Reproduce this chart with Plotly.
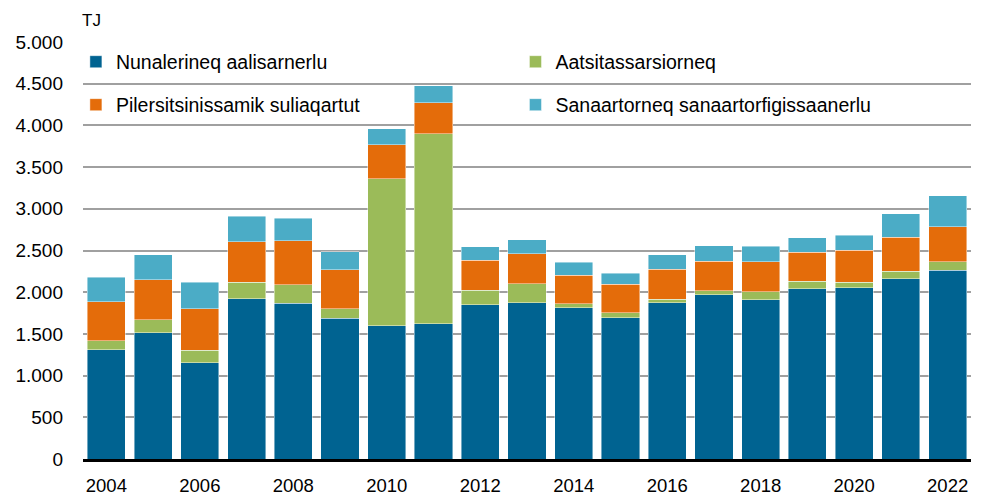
import plotly.graph_objects as go

years = list(range(2004, 2023))
nunalerineq = [1308, 1513, 1156, 1921, 1865, 1689, 1597, 1621, 1849, 1876, 1813, 1693, 1873, 1969, 1909, 2041, 2053, 2161, 2261]
aatsitassarsiorneq = [108, 156, 149, 200, 224, 112, 1764, 2277, 176, 225, 48, 60, 40, 48, 96, 92, 68, 92, 104]
pilersitsinissamik = [472, 483, 496, 484, 528, 468, 409, 376, 356, 360, 344, 340, 360, 356, 360, 344, 380, 404, 420]
sanaartorneq = [293, 297, 320, 304, 272, 216, 188, 200, 164, 168, 152, 136, 176, 184, 184, 176, 184, 284, 369]

series_names = ["Nunalerineq aalisarnerlu", "Aatsitassarsiorneq",
                "Pilersitsinissamik suliaqartut", "Sanaartorneq sanaartorfigissaanerlu"]
x_tick_vals = [2004, 2006, 2008, 2010, 2012, 2014, 2016, 2018, 2020, 2022]
y_tick_vals = [0, 500, 1000, 1500, 2000, 2500, 3000, 3500, 4000, 4500, 5000]
y_tick_text = ["0", "500", "1.000", "1.500", "2.000", "2.500", "3.000", "3.500", "4.000", "4.500", "5.000"]

colors = ["#006391", "#9BBB59", "#E46C0A", "#4BACC6"]
data = [nunalerineq, aatsitassarsiorneq, pilersitsinissamik, sanaartorneq]
legend_ids = ["legend", "legend2", "legend3", "legend4"]
legend_pos = [(-0.008, 0.952), (0.487, 0.952), (-0.008, 0.849), (0.487, 0.849)]

FONT = "Liberation Sans, Arial, sans-serif"

fig = go.Figure()
for name, vals, col, lg in zip(series_names, data, colors, legend_ids):
    fig.add_trace(go.Bar(
        x=years, y=vals, name=name, legend=lg, showlegend=True,
        marker=dict(color=col, line=dict(color="rgba(255,255,255,0.55)", width=0.8)),
    ))

legend_layouts = {}
for lg, (lx, ly) in zip(legend_ids, legend_pos):
    legend_layouts[lg] = dict(
        x=lx, y=ly, orientation="h", xanchor="left", yanchor="middle",
        bgcolor="rgba(0,0,0,0)", font=dict(family=FONT, size=19.5, color="#000000"),
    )

# page body has a default 8px margin, so the figure is 8px smaller each way
fig.update_layout(
    barmode="stack",
    bargap=0.184,
    showlegend=True,
    width=975, height=489,
    margin=dict(l=75, r=12, t=34, b=38, autoexpand=False),
    plot_bgcolor="white", paper_bgcolor="white",
    font=dict(family=FONT, size=19, color="#000000"),
    xaxis=dict(
        range=[2003.5, 2022.5], tickmode="array", tickvals=x_tick_vals,
        ticktext=[str(v) for v in x_tick_vals], automargin=False,
        showgrid=False, showline=True, linecolor="#000000", linewidth=2.5,
        ticks="", ticklabelstandoff=8, tickfont=dict(size=18.5),
    ),
    yaxis=dict(
        range=[0, 5000], tickmode="array", tickvals=y_tick_vals, ticktext=y_tick_text,
        showgrid=True, gridcolor="#A0A0A0", gridwidth=1.8, automargin=False,
        zeroline=False, showline=False, ticks="", ticklabelstandoff=19,
        tickfont=dict(size=19),
    ),
    annotations=[dict(
        text="TJ", xref="paper", yref="paper", x=0.0, y=1.0, xshift=-3, yshift=22,
        xanchor="left", yanchor="middle", showarrow=False,
        font=dict(family=FONT, size=17, color="#000000"),
    )],
    **legend_layouts,
)

fig.write_html("out.html")
